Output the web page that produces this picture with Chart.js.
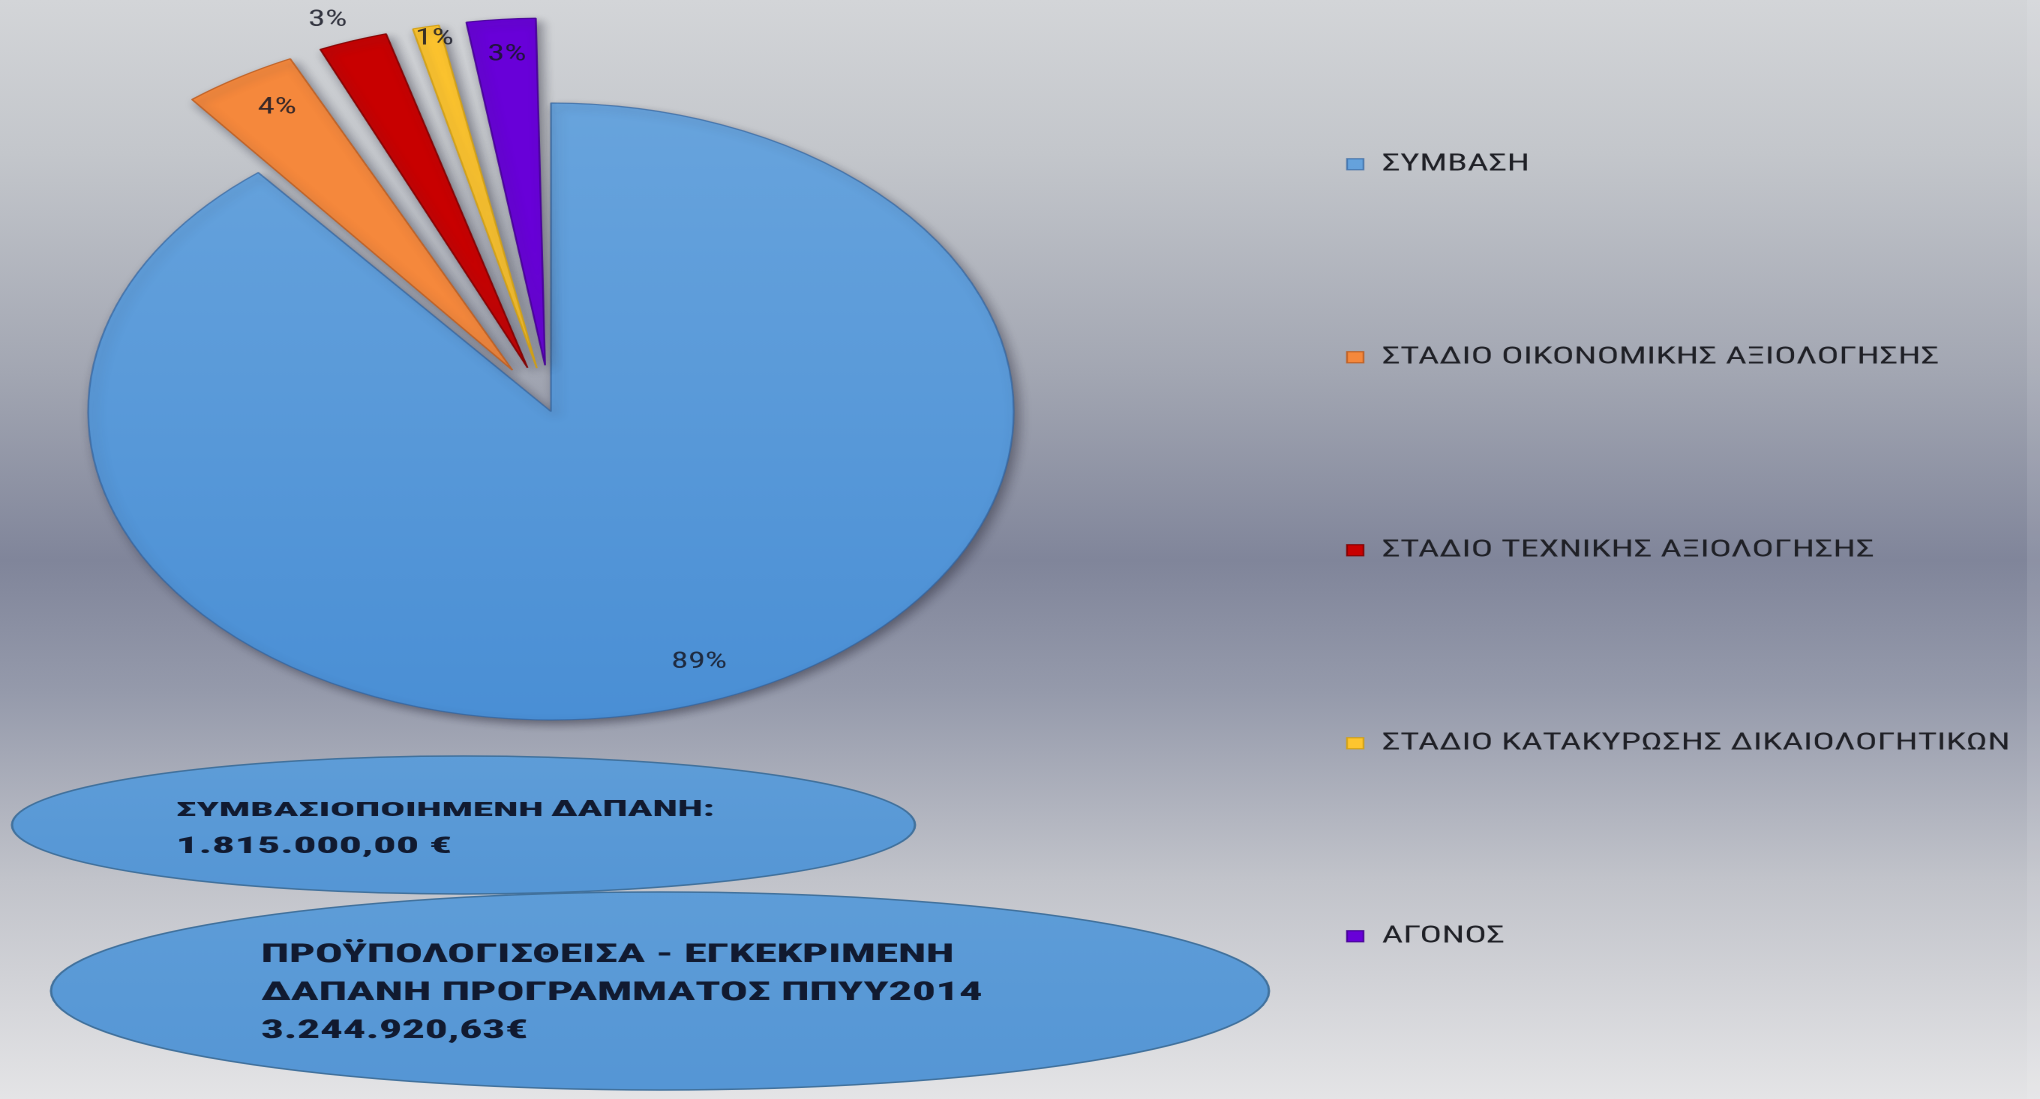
<!DOCTYPE html>
<html>
<head>
<meta charset="utf-8">
<script src="https://cdn.jsdelivr.net/npm/chart.js@4.4.1/dist/chart.umd.min.js"></script>
<style>
html,body{margin:0;padding:0;width:2040px;height:1099px;overflow:hidden;}
body{position:relative;background:linear-gradient(to bottom,#d3d5d8 0%,#c3c6cb 14%,#a2a6b2 34%,#80859a 51%,#959aab 63%,#c1c3ca 80%,#e4e4e6 100%);}
#edge{position:absolute;left:2027px;top:0;width:13px;height:1099px;background:rgba(255,255,255,0.10);}
#wrap{position:absolute;left:0;top:-294px;width:1360px;height:1411px;transform:scaleX(1.5);transform-origin:0 0;}
</style>
</head>
<body>
<div id="edge"></div>
<div id="wrap"><canvas id="c"></canvas></div>
<script>
// ---- data ----
const categories = ['ΣΥΜΒΑΣΗ', 'ΣΤΑΔΙΟ ΟΙΚΟΝΟΜΙΚΗΣ ΑΞΙΟΛΟΓΗΣΗΣ', 'ΣΤΑΔΙΟ ΤΕΧΝΙΚΗΣ ΑΞΙΟΛΟΓΗΣΗΣ', 'ΣΤΑΔΙΟ ΚΑΤΑΚΥΡΩΣΗΣ ΔΙΚΑΙΟΛΟΓΗΤΙΚΩΝ', 'ΑΓΟΝΟΣ'];
const shares = [89.1, 4.1, 2.7, 1.4, 2.7];
const contractedNote = ['ΣΥΜΒΑΣΙΟΠΟΙΗΜΕΝΗ ΔΑΠΑΝΗ:', '1.815.000,00 €'];
const budgetNote = ['ΠΡΟΫΠΟΛΟΓΙΣΘΕΙΣΑ - ΕΓΚΕΚΡΙΜΕΝΗ', 'ΔΑΠΑΝΗ ΠΡΟΓΡΑΜΜΑΤΟΣ ΠΠΥΥ2014', '3.244.920,63€'];

// ---- layout / style ----
const FAMILY = '"Liberation Sans Narrow", "Roboto Condensed", Roboto, "Open Sans", sans-serif';
const CANVAS_W = 1360;
const PIE = {cx: 367.3, radius: 308.5, explode: 85};
const LEG = {boxX: 898, rowStep: 193, longestWidth: 419, maxSize: 26, box: 11};
const LABEL_LAYOUT = [
  {r: 0.873, da: -1.9}, {r: 0.873, da: 1.1}, {r: 1.082, da: -1.5}, {r: 0.958, da: 0.6}, {r: 0.884, da: 0.2}
];
const NOTES = {
  e1: {cx: 309, cy: 1119, rx: 301, ry: 69},
  e2: {cx: 440, cy: 1285, rx: 406, ry: 99},
  runs1: [
    {x: 117.3, y: 1110, size: 19, w: 245},
    {x: 367.3, y: 1110, size: 22, w: 109},
    {x: 117.3, y: 1147, size: 23, w: 184}
  ],
  runs2: [
    {x: 174, y: 1256, size: 26, w: 462},
    {x: 174, y: 1294, size: 26, w: 481},
    {x: 174, y: 1332, size: 26, w: 178}
  ]
};

const mctx = document.createElement('canvas').getContext('2d');
function textWidth(t, font) { mctx.font = font; return mctx.measureText(t).width; }

let longest = categories[0];
categories.forEach(c => {
  if (textWidth(c, LEG.maxSize + 'px ' + FAMILY) > textWidth(longest, LEG.maxSize + 'px ' + FAMILY)) longest = c;
});
const legendSize = Math.min(LEG.maxSize, LEG.maxSize * LEG.longestWidth / textWidth(longest, LEG.maxSize + 'px ' + FAMILY));
const legendPad = LEG.rowStep - legendSize;
const longestW = textWidth(longest, legendSize + 'px ' + FAMILY);
const padRight = (CANVAS_W - 21 - LEG.boxX) - legendSize / 2 - longestW;
const padLeft = 2 * PIE.cx - (LEG.boxX - legendPad);

function fitText(ctx, text, r) {
  ctx.font = '800 ' + r.size + 'px ' + FAMILY;
  const w = ctx.measureText(text).width;
  ctx.save();
  ctx.translate(r.x, r.y);
  ctx.scale(r.w / w, 1);
  ctx.fillText(text, 0, 0);
  ctx.restore();
}

function drawEllipse(ctx, e) {
  ctx.save();
  ctx.beginPath();
  ctx.ellipse(e.cx, e.cy, e.rx, e.ry, 0, 0, Math.PI * 2);
  const g = ctx.createLinearGradient(0, e.cy - e.ry, 0, e.cy + e.ry);
  g.addColorStop(0, '#5e9dd8');
  g.addColorStop(1, '#5596d5');
  ctx.fillStyle = g;
  ctx.fill();
  ctx.lineWidth = 1.5;
  ctx.strokeStyle = '#41719c';
  ctx.stroke();
  ctx.restore();
}

function drawNotes(ctx) {
  drawEllipse(ctx, NOTES.e1);
  drawEllipse(ctx, NOTES.e2);
  ctx.save();
  ctx.fillStyle = '#111a30';
  ctx.textBaseline = 'alphabetic';
  ctx.textAlign = 'left';
  const first = contractedNote[0];
  const cut = first.lastIndexOf(' ');
  fitText(ctx, first.slice(0, cut), NOTES.runs1[0]);
  fitText(ctx, first.slice(cut + 1), NOTES.runs1[1]);
  fitText(ctx, contractedNote[1], NOTES.runs1[2]);
  budgetNote.forEach((t, i) => fitText(ctx, t, NOTES.runs2[i]));
  ctx.restore();
}

function drawLabels(chart) {
  const ctx = chart.ctx;
  const meta = chart.getDatasetMeta(0);
  const data = chart.data.datasets[0].data;
  const total = data.reduce((a, b) => a + b, 0);
  ctx.save();
  ctx.font = '23px ' + FAMILY;
  ctx.textAlign = 'center';
  ctx.textBaseline = 'middle';
  ctx.fillStyle = 'rgba(22,24,36,0.85)';
  meta.data.forEach((arc, i) => {
    const p = arc.getProps(['x', 'y', 'startAngle', 'endAngle', 'outerRadius']);
    const mid = (p.startAngle + p.endAngle) / 2;
    const circ = p.endAngle - p.startAngle;
    const off = arc.options.offset || 0;
    const shift = off / 4 * (2 - Math.sin(Math.min(Math.PI, circ)));
    const ax = p.x + Math.cos(mid) * shift;
    const ay = p.y + Math.sin(mid) * shift;
    const L = LABEL_LAYOUT[i];
    const ang = mid + L.da * Math.PI / 180;
    const r = L.r * p.outerRadius;
    const txt = Math.round(data[i] / total * 100) + '%';
    ctx.fillText(txt, ax + Math.cos(ang) * r, ay + Math.sin(ang) * r);
  });
  ctx.restore();
}

const decor = {
  id: 'decor',
  beforeDatasetsDraw(chart) {
    const ctx = chart.ctx;
    drawNotes(ctx);
    ctx.save();
    const dpr = chart.currentDevicePixelRatio || 1;
    ctx.shadowColor = 'rgba(55,55,70,0.55)';
    ctx.shadowBlur = 8 * dpr;
    ctx.shadowOffsetX = 3 * dpr;
    ctx.shadowOffsetY = 4 * dpr;
  },
  afterDatasetsDraw(chart) {
    chart.ctx.restore();
    drawLabels(chart);
  }
};

const COLORS = ['#5b9bd5', '#f5883c', '#c80000', '#fec52e', '#6800d8'];
const BORDERS = ['rgba(50,100,160,0.7)', 'rgba(190,95,35,0.9)', 'rgba(130,0,0,0.9)', 'rgba(210,160,20,0.9)', 'rgba(70,0,150,0.9)'];

new Chart(document.getElementById('c'), {
  type: 'pie',
  data: {
    labels: categories,
    datasets: [{
      data: shares,
      clip: false,
      backgroundColor: (c) => {
        if (c.type !== 'data') return COLORS[0];
        const base = COLORS[c.dataIndex];
        const area = c.chart.chartArea;
        if (c.dataIndex !== 0 || !area) return base;
        const cy = (area.top + area.bottom) / 2;
        const g = c.chart.ctx.createLinearGradient(0, cy - PIE.radius, 0, cy + PIE.radius);
        g.addColorStop(0, '#68a4dd');
        g.addColorStop(1, '#4a8fd5');
        return g;
      },
      borderColor: BORDERS,
      borderWidth: 1.2,
      offset: (c) => {
        if (c.type !== 'data' || c.dataIndex === 0) return 0;
        const d = c.dataset.data;
        const total = d.reduce((a, b) => a + b, 0);
        const circ = d[c.dataIndex] / total * Math.PI * 2;
        return 4 * PIE.explode / (2 - Math.sin(Math.min(Math.PI, circ)));
      }
    }]
  },
  options: {
    responsive: true,
    maintainAspectRatio: false,
    devicePixelRatio: 2,
    animation: false,
    radius: PIE.radius,
    layout: {padding: {left: padLeft, right: padRight, top: 0, bottom: 0}},
    plugins: {
      tooltip: {enabled: false},
      legend: {
        position: 'right',
        align: 'end',
        labels: {
          boxWidth: LEG.box,
          boxHeight: LEG.box,
          padding: legendPad,
          color: '#1f2026',
          font: {family: FAMILY, size: legendSize}
        }
      }
    }
  },
  plugins: [decor]
});
</script>
</body>
</html>
